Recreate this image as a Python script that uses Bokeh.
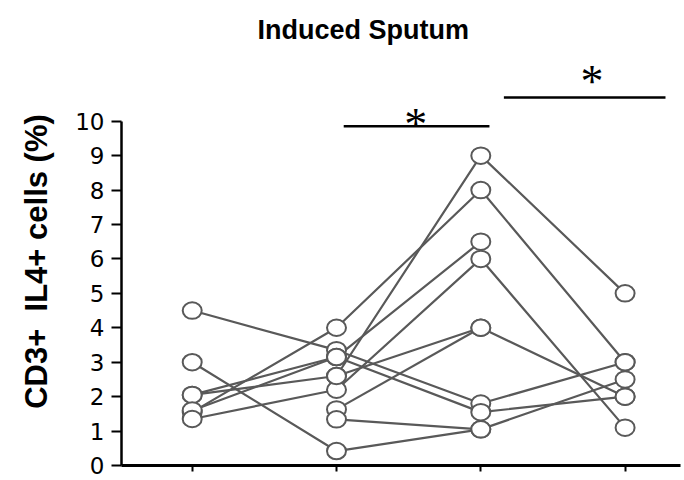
from bokeh.plotting import figure
from bokeh.models import Range1d, FixedTicker
from bokeh.core.properties import value
from bokeh.embed import file_html
from bokeh.resources import INLINE
import math

nan = float("nan")

# time points (4 sampling occasions)
timepoints = [1, 2, 3, 4]
y_ticks = [0, 1, 2, 3, 4, 5, 6, 7, 8, 9, 10]

# individual subjects: % CD3+ IL4+ cells at each time point
subject_1 = [4.5, 3.35, 1.8, 3.0]
subject_2 = [3.0, 0.42, 1.05, 2.5]
subject_3 = [2.05, 3.15, 1.55, 2.0]
subject_4 = [2.05, 2.6, 9.0, 5.0]
subject_5 = [1.55, 4.0, 8.0, 3.0]
subject_6 = [1.6, 3.15, 6.5, nan]
subject_7 = [1.35, 2.2, 6.0, 1.1]
subject_8 = [nan, 2.6, 4.0, 2.0]
subject_9 = [nan, 1.63, 4.0, nan]
subject_10 = [nan, 1.34, 1.05, nan]

subjects = [subject_1, subject_2, subject_3, subject_4, subject_5,
            subject_6, subject_7, subject_8, subject_9, subject_10]

# significance brackets
sig_x0 = [2.05, 3.16]
sig_x1 = [3.06, 4.28]
sig_y = [9.85, 10.69]
sig_label_x = [2.55, 3.77]
sig_label_y = [9.9, 11.15]
sig_labels = ["*", "*"]

LINE_COL = "#595959"

p = figure(width=682, height=478, output_backend="svg", toolbar_location=None,
           x_range=Range1d(0.51, 4.384), y_range=Range1d(0, 11.85),
           min_border_left=121, min_border_right=2, min_border_bottom=13,
           min_border_top=57)
p.outline_line_color = None
p.grid.visible = False
p.background_fill_color = "white"
p.border_fill_color = "white"

p.title.text = "Induced Sputum"
p.title.text_font = "Liberation Sans"
p.title.text_font_style = "bold"
p.title.text_font_size = "27px"
p.title.text_color = "black"
p.title.align = "left"
p.title.offset = 136
p.title.standoff = 25

for s in subjects:
    p.line(timepoints, s, line_color=LINE_COL, line_width=2.2)

for s in subjects:
    xs = [t for t, v in zip(timepoints, s) if not math.isnan(v)]
    ys = [v for v in s if not math.isnan(v)]
    p.ellipse(xs, ys, width=19, height=16.5, width_units="screen",
              height_units="screen", fill_color="white",
              line_color=LINE_COL, line_width=2)

p.segment(x0=sig_x0, y0=sig_y, x1=sig_x1, y1=sig_y, line_color="black",
          line_width=2.5)
p.text(x=sig_label_x, y=sig_label_y, text=sig_labels,
       text_font=value("Liberation Serif"), text_font_size="46px",
       text_align="center", text_baseline="middle", text_color="black")

ya = p.yaxis[0]
ya.ticker = FixedTicker(ticks=y_ticks)
ya.bounds = (0, 10)
ya.axis_line_width = 2.5
ya.axis_line_color = "black"
ya.major_tick_line_width = 2
ya.major_tick_out = 10
ya.major_tick_in = 0
ya.minor_tick_line_color = None
ya.major_label_text_font = "DejaVu Sans"
ya.major_label_text_font_size = "23px"
ya.major_label_text_color = "black"
ya.major_label_standoff = 7
ya.axis_label = "CD3+\u00a0\u00a0IL4+ cells (%)"
ya.axis_label_text_font = "Liberation Sans"
ya.axis_label_text_font_style = "bold"
ya.axis_label_text_font_size = "31px"
ya.axis_label_text_color = "black"
ya.axis_label_standoff = 18

xa = p.xaxis[0]
xa.ticker = FixedTicker(ticks=[], minor_ticks=timepoints)
xa.axis_line_width = 3
xa.axis_line_color = "black"
xa.major_tick_line_color = None
xa.minor_tick_line_color = "black"
xa.minor_tick_line_width = 2
xa.minor_tick_out = 6
xa.minor_tick_in = 0

open("out.html", "w").write(file_html(p, INLINE))
